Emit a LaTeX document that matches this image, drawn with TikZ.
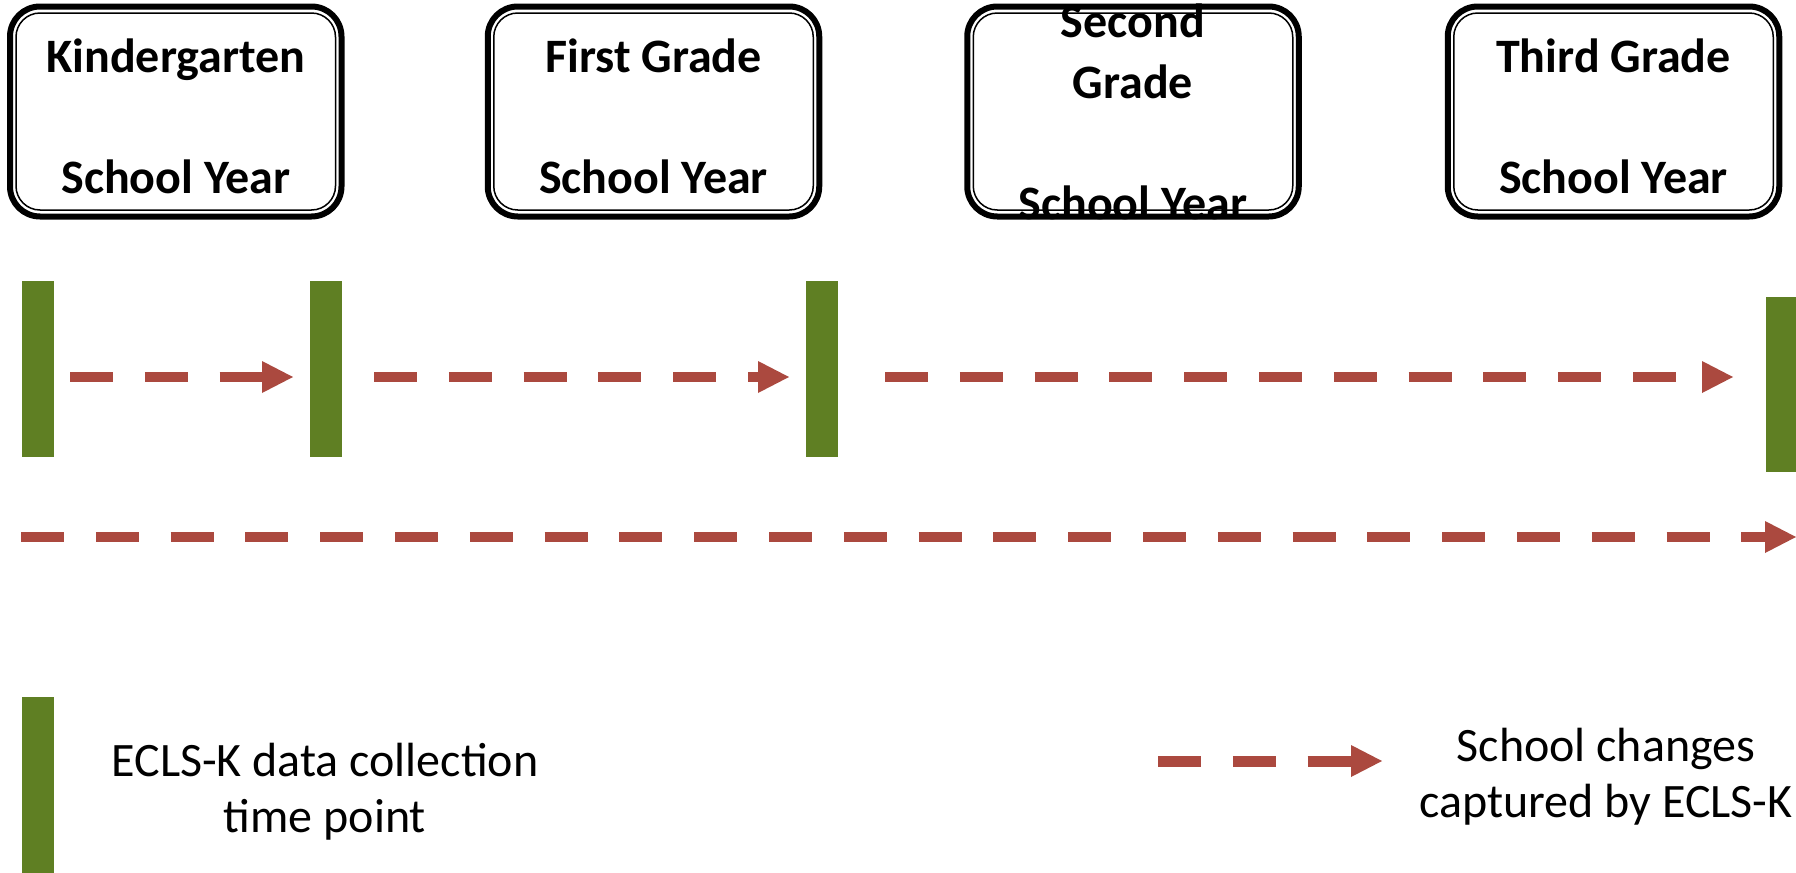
\documentclass[tikz,border=0pt]{standalone}
\usepackage{fontspec}
\setmainfont{Carlito}
\usetikzlibrary{arrows.meta}
\definecolor{barGreen}{RGB}{95,127,35}
\definecolor{arrRed}{RGB}{171,73,63}
\begin{document}
\begin{tikzpicture}[x=0.5pt,y=-0.5pt,
  yearbox/.style={draw=black, line width=3pt, rounded corners=15pt,
    minimum width=165.75pt, minimum height=105pt, inner sep=0pt, outer sep=0pt},
  innerbox/.style={draw=black, line width=0.75pt, rounded corners=12pt},
  title/.style={font=\bfseries\fontsize{24}{30.25}\selectfont, align=center,
    anchor=base, inner sep=0pt},
  legtext/.style={font=\fontsize{24}{27.75}\selectfont, align=center,
    anchor=base, inner sep=0pt},
  bar/.style={fill=barGreen, draw=none, minimum width=16pt, minimum height=88pt,
    inner sep=0pt, outer sep=0pt},
  change/.style={draw=arrRed, line width=5pt, dash pattern=on 21.5pt off 15.9pt,
    -{Triangle[length=15.5pt,width=16pt,line width=0pt]}}
]
\clip (0,0) rectangle (1796,873);
\fill[white] (0,0) rectangle (1796,873);

% year boxes
\node[yearbox] (b1) at (175.75,111.5) {};
\node[yearbox] (b2) at (653.5,111.5) {};
\node[yearbox] (b3) at (1133,111.5) {};
\node[yearbox] (b4) at (1613.5,111.5) {};
\foreach \b in {b1,b2,b3,b4}{
  \draw[innerbox] ([xshift=3pt,yshift=-3.25pt]\b.north west) rectangle ([xshift=-3pt,yshift=3.25pt]\b.south east);
}
\node[title] (t1) at (175.75,193) {Kindergarten\\[30.25pt]School Year};
\node[title] (t2) at (653.5,193) {First Grade\\[30.25pt]School Year};
\node[title] (t3) at (1133,219) {Second\\Grade\\[30.25pt]School Year};
\node[title] (t4) at (1613.5,193) {Third Grade\\[30.25pt]School Year};

% data collection bars
\node[bar] (k1) at (38,369) {};
\node[bar] (k2) at (326,369) {};
\node[bar] (k3) at (822,369) {};
\node[bar, minimum height=87.5pt] (k4) at (1782,384.5) {};

% school change arrows
\coordinate (a1s) at (70,377);   \coordinate (a1e) at (293,377);
\coordinate (a2s) at (374,377);  \coordinate (a2e) at (789,377);
\coordinate (a3s) at (885,377);  \coordinate (a3e) at (1733,377);
\coordinate (a4s) at (21,537);   \coordinate (a4e) at (1796,537);
\draw[change] (a1s) -- (a1e);
\draw[change] (a2s) -- (a2e);
\draw[change] (a3s) -- (a3e);
\draw[change] (a4s) -- (a4e);

% legend
\node[bar] (lbar) at (38,785) {};
\node[legtext] (lt1) at (325,832) {ECLS-K data collection\\time point};
\coordinate (las) at (1158,761); \coordinate (lae) at (1382,761);
\draw[change, line width=5.5pt] (las) -- (lae);
\node[legtext] (lt2) at (1606,817) {School changes\\captured by ECLS-K};
\end{tikzpicture}
\end{document}
